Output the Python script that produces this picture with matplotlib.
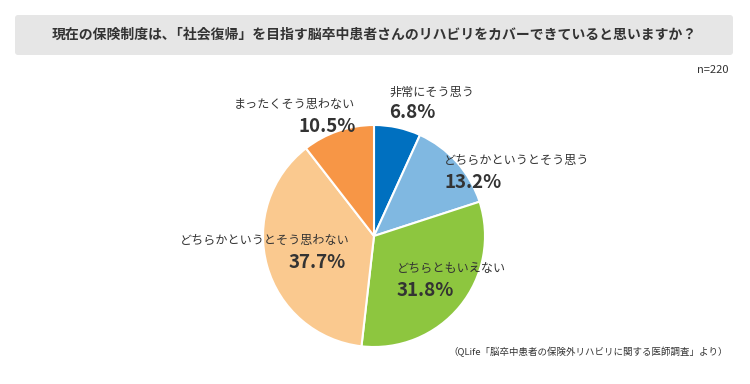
import matplotlib.pyplot as plt
from matplotlib.patches import FancyBboxPatch

plt.rcParams['font.family'] = ['Noto Sans CJK JP', 'DejaVu Sans']

labels = ['非常にそう思う', 'どちらかというとそう思う', 'どちらともいえない',
          'どちらかというとそう思わない', 'まったくそう思わない']
values = [6.8, 13.2, 31.8, 37.7, 10.5]
colors = ['#0070c0', '#80b8e1', '#8dc63f', '#fac98f', '#f79646']

title = '現在の保険制度は､「社会復帰」を目指す脳卒中患者さんのリハビリをカバーできていると思いますか？'
note = 'n=220'
source = '（QLife「脳卒中患者の保険外リハビリに関する医師調査」より）'

fig = plt.figure(figsize=(7.5, 3.84), dpi=100)
ax = fig.add_axes([0, 0, 1, 1])

# title box
box = FancyBboxPatch((15, 15), 718, 40, boxstyle='round,pad=0,rounding_size=3',
                     facecolor='#e6e6e6', edgecolor='none')
ax.add_patch(box)
ax.text(374, 35, title, ha='center', va='center', fontsize=10,
        fontweight='bold', color='#333333')
ax.text(728, 70, note, ha='right', va='center', fontsize=8, color='#333333')

# pie (y axis is inverted, so counterclock=True draws clockwise on screen)
ax.pie(values, colors=colors, startangle=-90, counterclock=True,
       center=(374, 236), radius=111, frame=True,
       wedgeprops=dict(edgecolor='white', linewidth=1.5))
ax.set_xlim(0, 750)
ax.set_ylim(384, 0)
ax.set_aspect('equal')
ax.axis('off')

txt = '#333333'
# label positions (pixel) : (label x, label y, pct x, pct y, ha)
pos = [
    (389, 92, 389, 113, 'left'),
    (444, 160, 444, 183, 'left'),
    (397, 268, 397, 290, 'left'),
    (350, 240, 346, 263, 'right'),
    (355, 104, 356, 127, 'right'),
]
for lab, v, (lx, ly, px, py, ha) in zip(labels, values, pos):
    ax.text(lx, ly, lab, ha=ha, va='center', fontsize=8.7, color=txt)
    ax.text(px, py, f'{v:.1f}%', ha=ha, va='center', fontsize=13.5,
            fontweight='bold', color=txt)

ax.text(728, 352, source, ha='right', va='center', fontsize=6.8, color='#333333')

fig.savefig('out.png', dpi=100)
